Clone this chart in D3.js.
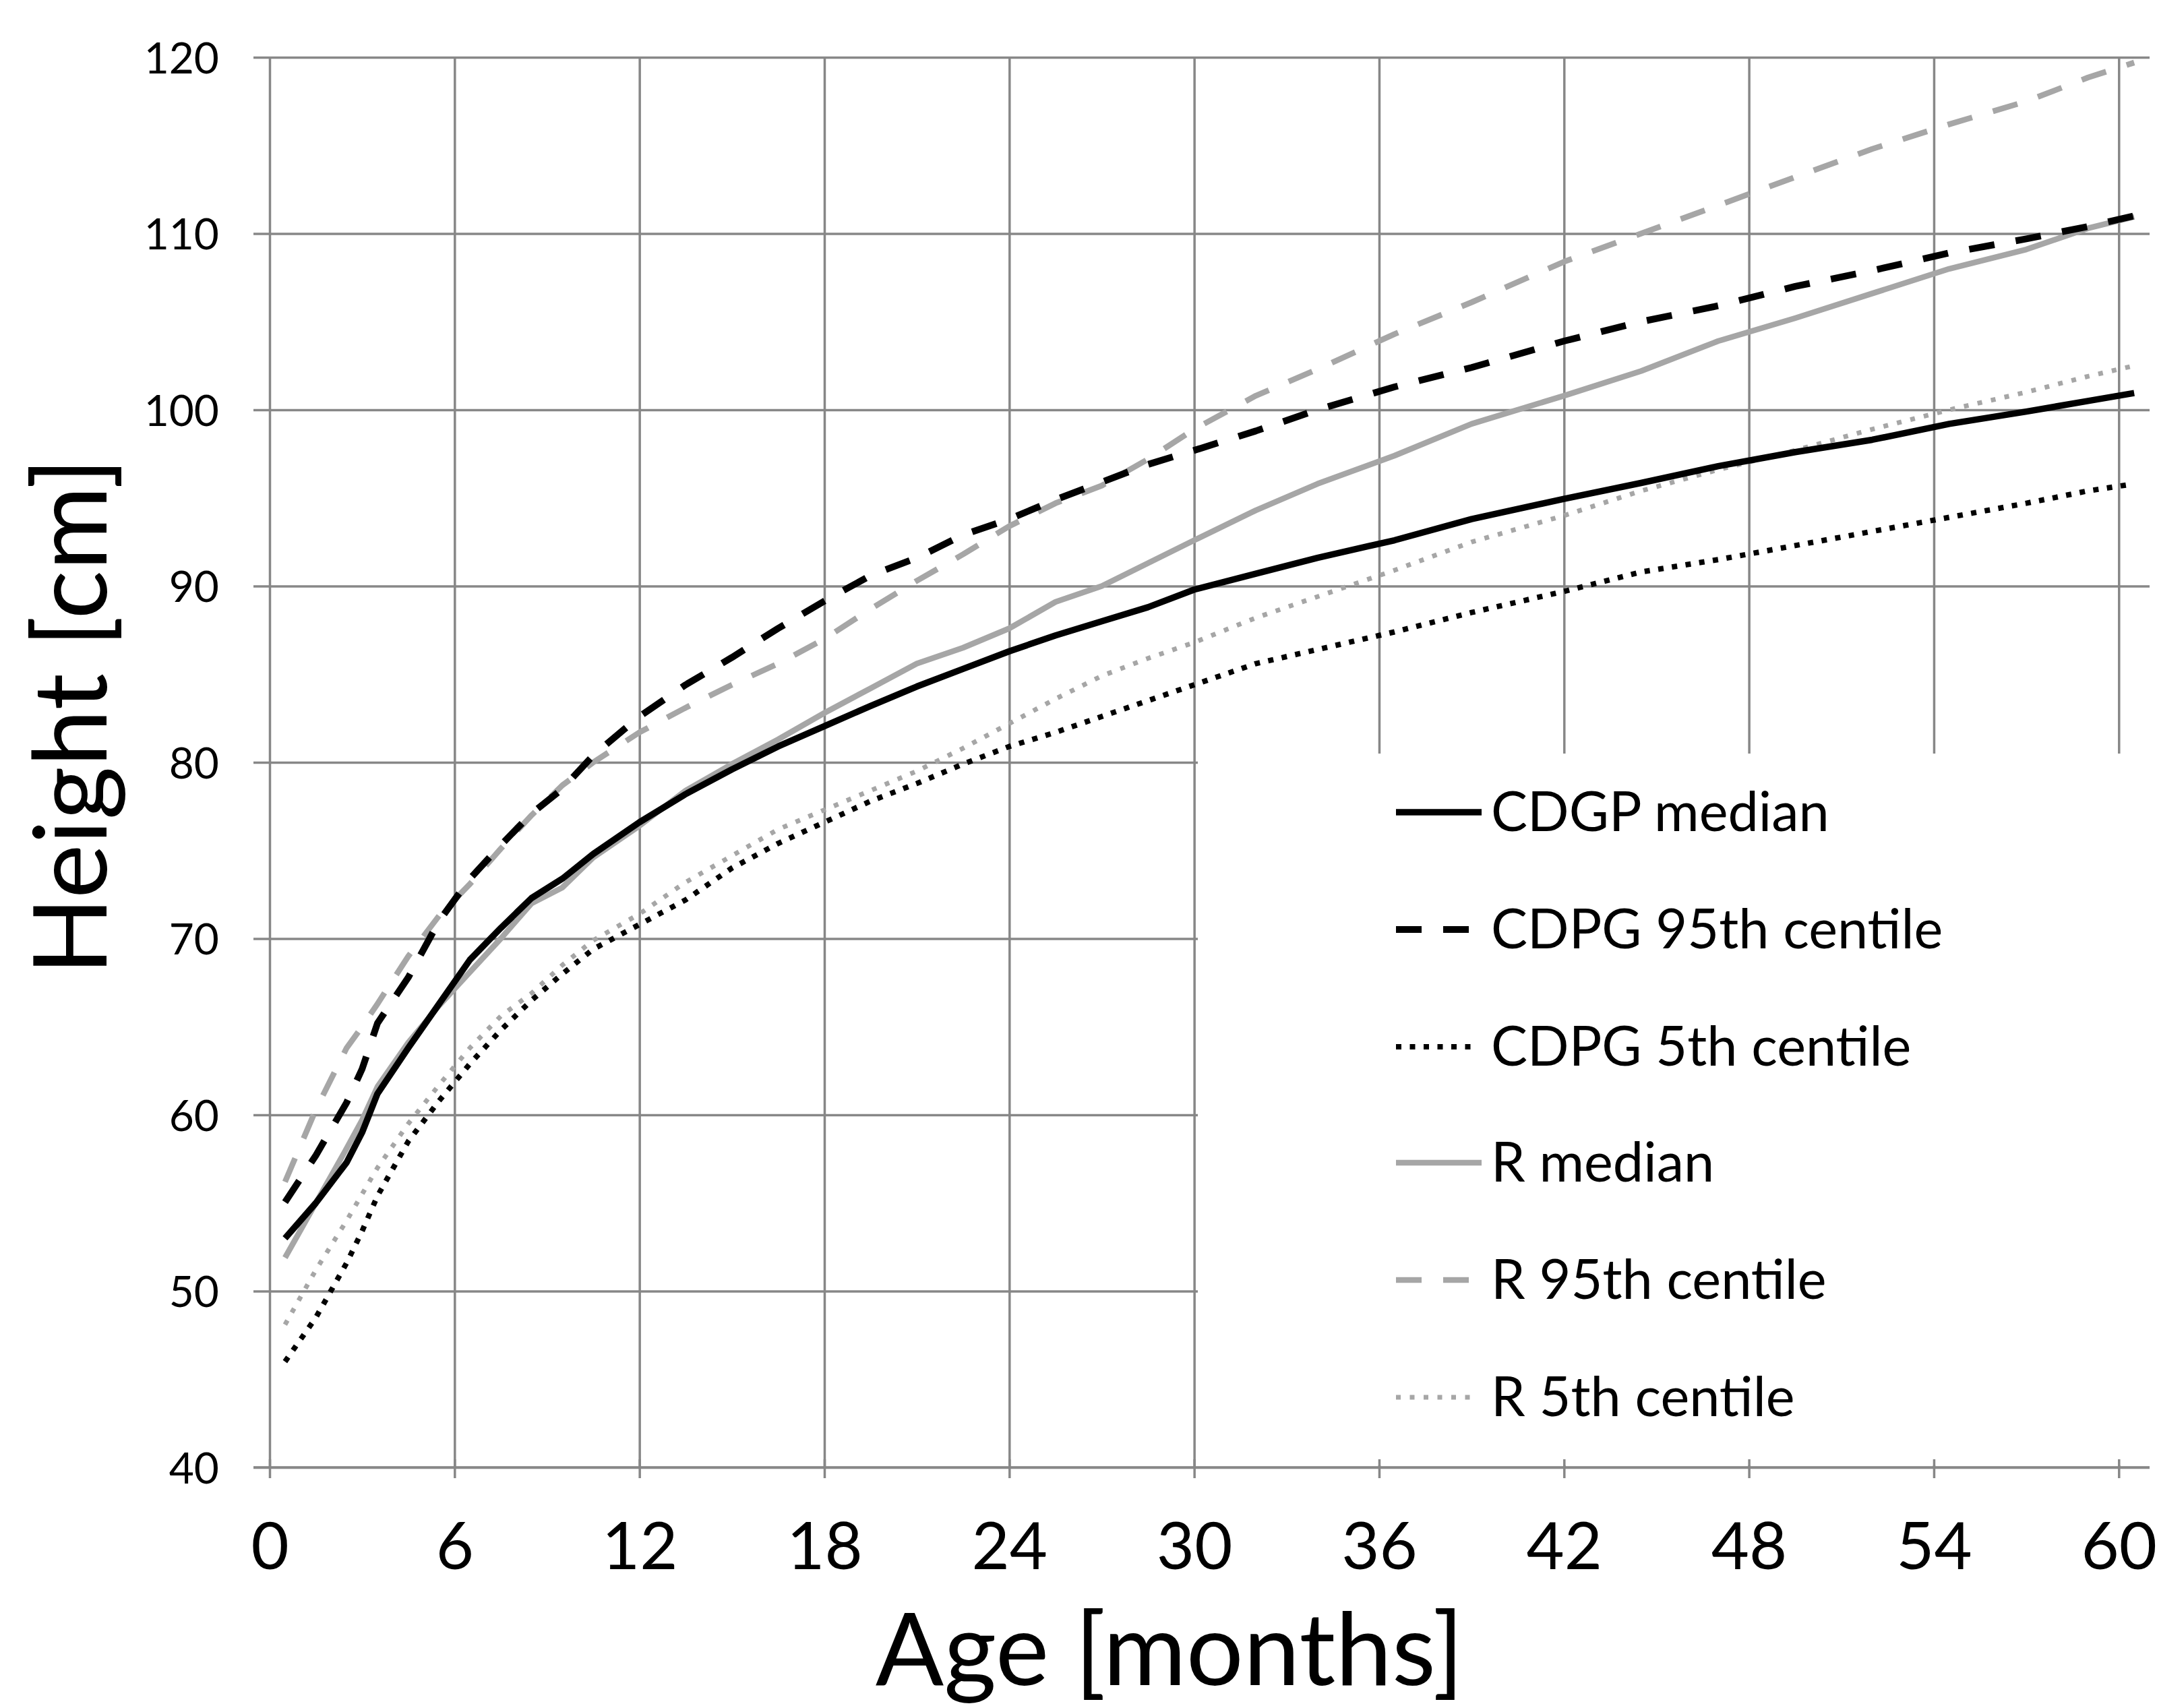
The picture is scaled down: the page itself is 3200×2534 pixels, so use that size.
<!DOCTYPE html>
<html>
<head>
<meta charset="utf-8">
<script src="https://cdn.jsdelivr.net/npm/d3@7"></script>
<style>html,body{margin:0;padding:0;background:#fff}</style>
</head>
<body>
<svg id="chart" width="3200" height="2534"></svg>
<script>
// ---- data ----
const months = [0.5, 1.5, 2.5, 3, 3.5, 4.5, 5.5, 6.5, 7.5, 8.5, 9.5, 10.5, 12, 13.5, 15, 16.5, 18, 19.5, 21, 22.5, 24, 25.5, 27, 28.5, 30, 32, 34, 36.5, 39, 42, 44.5, 47, 49.5, 52, 54.5, 57, 59, 60.5];
const cdgpMedian = [53.0, 55.0, 57.3, 59.0, 61.2, 63.8, 66.3, 68.8, 70.6, 72.3, 73.4, 74.8, 76.6, 78.2, 79.6, 80.9, 82.05, 83.2, 84.3, 85.3, 86.3, 87.2, 88.0, 88.8, 89.8, 90.7, 91.6, 92.6, 93.8, 94.95, 95.85, 96.8, 97.6, 98.3, 99.2, 99.9, 100.5, 100.95];
const cdpg95 = [55.05, 57.7, 60.7, 62.6, 65.2, 67.8, 71.0, 73.4, 75.3, 77.1, 78.5, 80.4, 82.6, 84.4, 85.95, 87.6, 89.15, 90.6, 91.6, 92.9, 93.8, 94.9, 95.9, 96.9, 97.7, 98.8, 100.0, 101.3, 102.4, 103.9, 105.0, 105.9, 107.0, 107.9, 108.9, 109.7, 110.4, 111.0];
const cdpg5 = [46.0, 48.5, 51.6, 53.4, 55.4, 58.5, 60.8, 62.9, 64.8, 66.5, 68.0, 69.4, 70.8, 72.2, 74.0, 75.4, 76.6, 77.8, 78.8, 79.9, 80.9, 81.7, 82.6, 83.5, 84.4, 85.6, 86.4, 87.4, 88.5, 89.7, 90.8, 91.5, 92.3, 93.1, 93.9, 94.7, 95.4, 95.8];
const rMedian = [51.9, 55.0, 58.1, 59.7, 61.6, 64.1, 66.2, 68.1, 70.0, 72.0, 72.9, 74.6, 76.4, 78.4, 79.9, 81.3, 82.8, 84.2, 85.6, 86.5, 87.6, 89.1, 90.0, 91.3, 92.6, 94.3, 95.8, 97.4, 99.2, 100.8, 102.2, 103.9, 105.2, 106.6, 108.0, 109.1, 110.3, 110.95];
const r95 = [56.2, 60.3, 63.8, 65.0, 66.3, 69.0, 71.3, 73.1, 75.1, 77.0, 78.7, 80.0, 81.7, 83.1, 84.4, 85.6, 87.0, 88.7, 90.3, 91.8, 93.4, 94.7, 95.7, 97.2, 98.9, 100.8, 102.3, 104.3, 106.1, 108.4, 110.0, 111.6, 113.2, 114.8, 116.2, 117.5, 118.85, 119.7];
const r5 = [48.1, 51.2, 54.0, 55.5, 57.0, 59.5, 61.7, 63.8, 65.6, 66.9, 68.5, 69.9, 71.4, 73.2, 74.7, 76.2, 77.3, 78.4, 79.5, 80.8, 82.2, 83.6, 84.9, 85.9, 86.8, 88.2, 89.4, 90.9, 92.5, 94.0, 95.4, 96.6, 97.7, 98.9, 100.0, 101.0, 101.9, 102.5];
const seriesNames = ["CDGP median", "CDPG 95th centile", "CDPG 5th centile", "R median", "R 95th centile", "R 5th centile"];
const xTicks = [0, 6, 12, 18, 24, 30, 36, 42, 48, 54, 60];
const yTicks = [40, 50, 60, 70, 80, 90, 100, 110, 120];
const xTitle = "Age [months]";
const yTitle = "Height [cm]";

// ---- styles ----
const BLACK = "#000000", GREY = "#a6a6a6", GRID = "#878787";
const FONT = "Lato, 'Open Sans', sans-serif";
const styles = [
  {color: BLACK, width: 9.5, dash: null},
  {color: BLACK, width: 10, dash: "38,32"},
  {color: BLACK, width: 8, dash: "8,12.5"},
  {color: GREY, width: 8.5, dash: null},
  {color: GREY, width: 8.5, dash: "38,32"},
  {color: GREY, width: 7, dash: "7,13.5"}
];
const seriesValues = [cdgpMedian, cdpg95, cdpg5, rMedian, r95, r5];

const svg = d3.select("#chart");
svg.append("rect").attr("width", 3200).attr("height", 2534).attr("fill", "#fff");

const plotLeft = 400, plotRight = 3189, plotTop = 85, plotBottom = 2177;
const x = d3.scaleLinear().domain([0, 61]).range([plotLeft, plotRight]);
const y = d3.scaleLinear().domain([40, 120]).range([plotBottom, plotTop]);

// vertical gridlines
const gx = svg.append("g").attr("transform", `translate(0,${plotBottom})`)
  .call(d3.axisBottom(x).tickValues(xTicks).tickSize(-(plotBottom - plotTop)).tickSizeOuter(0).tickFormat(""));
gx.select(".domain").remove();
gx.selectAll("line").attr("stroke", GRID).attr("stroke-width", 3.5);

// horizontal gridlines + y labels
const gy = svg.append("g").attr("transform", "translate(376,0)")
  .call(d3.axisLeft(y).tickValues(yTicks).tickSize(-(plotRight - 376)).tickSizeOuter(0).tickPadding(51));
gy.select(".domain").remove();
gy.selectAll("line").attr("stroke", GRID).attr("stroke-width", 3.5);
gy.selectAll("text").attr("font-family", FONT).attr("font-size", 64).attr("fill", "#000").attr("dy", "0.36em");

// lines
const line = d3.line().x((d, i) => x(months[i])).y(d => y(d));
const order = [3, 4, 5, 0, 1, 2];
order.forEach(k => {
  const s = styles[k];
  svg.append("path").datum(seriesValues[k])
    .attr("d", line)
    .attr("fill", "none")
    .attr("stroke", s.color)
    .attr("stroke-width", s.width)
    .attr("stroke-linejoin", "round")
    .attr("stroke-dasharray", s.dash);
});

// legend box
const legX = 1777, legTop = 1118;
svg.append("rect").attr("x", legX).attr("y", legTop).attr("width", 3200 - legX).attr("height", 2174 - legTop).attr("fill", "#fff");
const legRows = [1205, 1379, 1553, 1725, 1899, 2073];
seriesNames.forEach((name, k) => {
  const s = styles[k];
  const ly = legRows[k];
  svg.append("line").attr("x1", 2071).attr("x2", s.dash ? 2190 : 2198).attr("y1", ly).attr("y2", ly)
    .attr("stroke", s.color).attr("stroke-width", s.width).attr("stroke-dasharray", s.dash);
  svg.append("text").attr("x", 2212).attr("y", ly + 28).attr("font-family", FONT).attr("font-size", 81)
    .attr("fill", "#000").text(name);
});

// x axis line, ticks and labels
const ax = svg.append("g").attr("transform", `translate(0,${plotBottom})`)
  .call(d3.axisBottom(x).tickValues(xTicks).tickSize(16).tickSizeOuter(0));
ax.select(".domain").attr("stroke", GRID).attr("stroke-width", 3.5).attr("d", `M${plotLeft - 24},0H${plotRight}`);
ax.selectAll("line").attr("stroke", GRID).attr("stroke-width", 3.5).attr("y1", -12);
ax.selectAll("text").attr("font-family", FONT).attr("font-size", 97).attr("fill", "#000")
  .attr("y", 2328 - plotBottom).attr("dy", 0);

// axis titles
svg.append("text").attr("x", 1735).attr("y", 2500).attr("text-anchor", "middle")
  .attr("font-family", FONT).attr("font-size", 150).attr("fill", "#000").text(xTitle);
svg.append("text").attr("transform", "translate(158,1063) rotate(-90)").attr("text-anchor", "middle")
  .attr("font-family", FONT).attr("font-size", 152).attr("fill", "#000").text(yTitle);
</script>
</body>
</html>
